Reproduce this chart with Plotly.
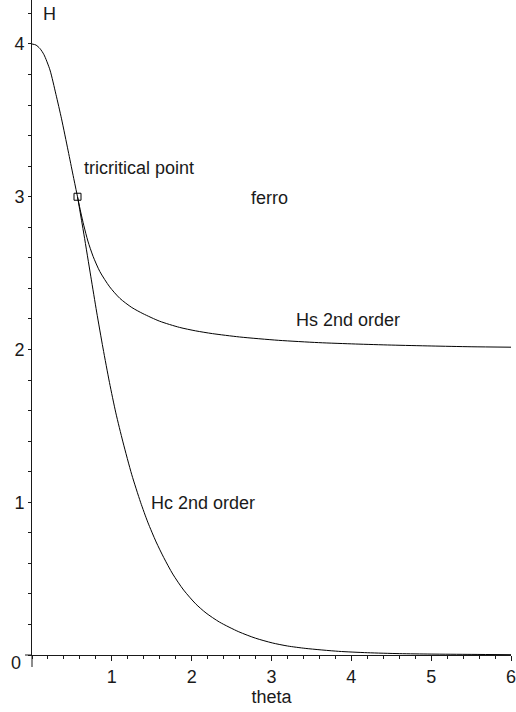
import plotly.graph_objects as go

# Common branch from H=4 at theta=0 down to the tricritical point
upper_theta = [0.0, 0.05, 0.1, 0.15, 0.225, 0.3, 0.37, 0.453, 0.515, 0.57]
upper_H = [4.0, 3.993, 3.97, 3.93, 3.83, 3.67, 3.51, 3.30, 3.14, 3.0]

# Hs second-order line (tends to 2)
hs_theta = [0.57, 0.61, 0.65, 0.70, 0.765, 0.85, 0.973, 1.1, 1.25, 1.389, 1.6, 1.846,
            2.05, 2.26, 2.6, 3.09, 3.59, 4.05, 4.5, 5.0, 5.5, 6.0]
hs_H = [3.0, 2.9, 2.81, 2.71, 2.61, 2.51, 2.41, 2.335, 2.275, 2.235, 2.185, 2.145,
        2.122, 2.104, 2.082, 2.060, 2.045, 2.036, 2.029, 2.023, 2.018, 2.015]

# Hc second-order line (tends to 0)
hc_theta = [0.57, 0.65, 0.736, 0.81, 0.889, 0.97, 1.05, 1.139, 1.25, 1.36, 1.45, 1.555,
            1.65, 1.763, 1.9, 2.05, 2.18, 2.35, 2.59, 2.8, 3.01, 3.2, 3.43, 3.84, 4.2,
            4.6, 5.0, 5.5, 6.0]
hc_H = [3.0, 2.755, 2.48, 2.245, 2.01, 1.785, 1.585, 1.395, 1.18, 1.0, 0.87, 0.74,
        0.638, 0.53, 0.425, 0.335, 0.275, 0.215, 0.152, 0.11, 0.079, 0.059, 0.043, 0.024, 0.015,
        0.009, 0.006, 0.004, 0.002]

tricritical = (0.57, 3.0)

x_ticks = [1, 2, 3, 4, 5, 6]
x_ticklabels = ["1", "2", "3", "4", "5", "6"]
y_ticks = [1, 2, 3, 4]
y_ticklabels = ["1", "2", "3", "4"]

FONT = "Liberation Sans, Arial, sans-serif"
INK = "#1a1a1a"

fig = go.Figure()
line_style = dict(color="black", width=1, shape="spline", smoothing=0.7)
fig.add_trace(go.Scatter(x=upper_theta, y=upper_H, mode="lines", line=line_style))
fig.add_trace(go.Scatter(x=hs_theta, y=hs_H, mode="lines", line=line_style))
fig.add_trace(go.Scatter(x=hc_theta, y=hc_H, mode="lines", line=line_style))
fig.add_trace(go.Scatter(
    x=[tricritical[0]], y=[tricritical[1]], mode="markers",
    marker=dict(symbol="square-open", size=7, color="black", line=dict(width=1)),
))

labels = [
    ("tricritical point", 0.624, 3.188, "left"),
    ("ferro", 2.98, 2.989, "center"),
    ("Hs 2nd order", 3.28, 2.19, "left"),
    ("Hc 2nd order", 1.47, 0.995, "left"),
]
for text, x, y, anchor in labels:
    fig.add_annotation(x=x, y=y, text=text, showarrow=False, xanchor=anchor,
                       yanchor="middle", font=dict(family=FONT, size=18, color=INK))

# axis name and the lowered zero label
fig.add_annotation(x=0, y=4.288, text="H", showarrow=False, xanchor="left", yanchor="middle",
                   xshift=9, yshift=-14, font=dict(family=FONT, size=18, color=INK))
fig.add_annotation(x=0, y=0, text="0", showarrow=False, xanchor="right", yanchor="middle",
                   xshift=-9, yshift=-8, font=dict(family=FONT, size=18, color=INK))

# short axis extensions past the origin
fig.add_shape(type="line", xref="paper", yref="paper", x0=0, x1=0, y0=-12 / 655, y1=0,
              line=dict(color=INK, width=1))
fig.add_shape(type="line", xref="paper", yref="paper", x0=-7 / 481, x1=0, y0=0, y1=0,
              line=dict(color=INK, width=1))

fig.update_layout(
    width=516, height=712,
    margin=dict(l=32, r=3, t=0, b=57),
    paper_bgcolor="white", plot_bgcolor="white",
    showlegend=False,
    font=dict(family=FONT, size=18, color=INK),
    xaxis=dict(
        range=[0, 6], showgrid=False, zeroline=False,
        showline=True, linecolor=INK, linewidth=1,
        tickmode="array", tickvals=x_ticks, ticktext=x_ticklabels,
        ticks="outside", ticklen=5, tickwidth=1, tickcolor=INK,
        ticklabeloverflow="allow",
        minor=dict(dtick=0.2, tick0=0, ticks="outside", ticklen=3, tickwidth=1, tickcolor=INK),
        title=dict(text="theta", font=dict(family=FONT, size=18, color=INK), standoff=4),
        tickfont=dict(family=FONT, size=18, color=INK),
    ),
    yaxis=dict(
        range=[0, 4.288], showgrid=False, zeroline=False,
        showline=True, linecolor=INK, linewidth=1,
        tickmode="array", tickvals=y_ticks, ticktext=y_ticklabels,
        ticks="outside", ticklen=3, tickwidth=1, tickcolor=INK,
        minor=dict(dtick=0.2, tick0=0, ticks="outside", ticklen=3, tickwidth=1, tickcolor=INK),
        tickfont=dict(family=FONT, size=18, color=INK),
    ),
)

fig.write_html("out.html")
